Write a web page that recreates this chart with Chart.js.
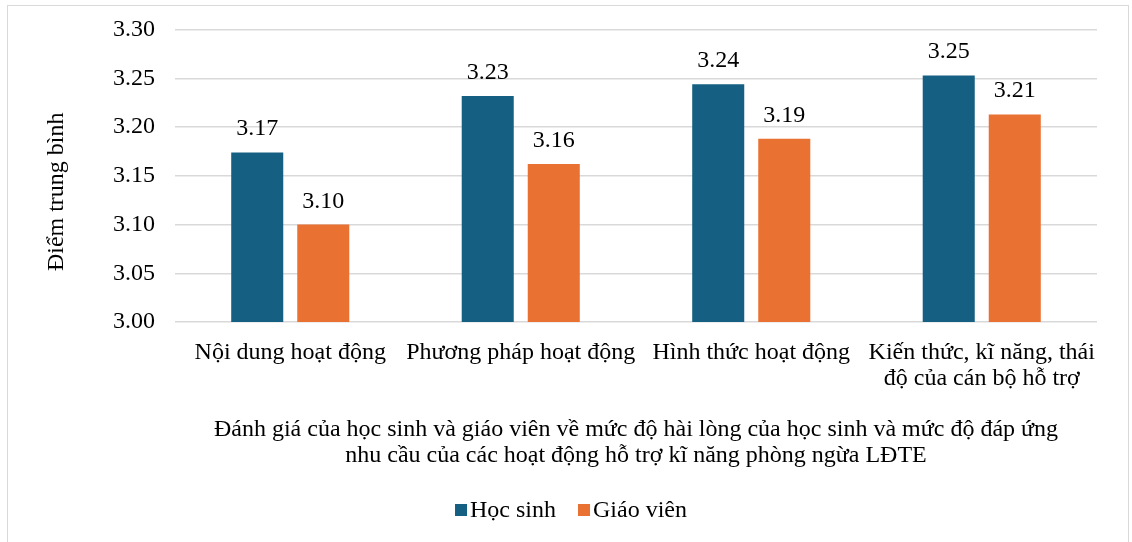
<!DOCTYPE html>
<html lang="vi">
<head>
<meta charset="utf-8">
<script src="https://cdn.jsdelivr.net/npm/chart.js@4/dist/chart.umd.min.js"></script>
<style>
  html, body { margin: 0; padding: 0; background: #ffffff; }
  #wrap { position: relative; width: 1132px; height: 542px; overflow: hidden; }
  #frame { position: absolute; left: 7px; top: 5px; width: 1122px; height: 560px;
           border: 1.5px solid #d9d9d9; box-sizing: border-box; }
  #c { position: absolute; left: 0; top: 0; }
</style>
</head>
<body>
<div id="wrap">
  <div id="frame"></div>
  <canvas id="c" width="1132" height="542"></canvas>
</div>
<script>
// Categories (wrapped labels as arrays of lines)
const categories = [
  ['Nội dung hoạt động'],
  ['Phương pháp hoạt động'],
  ['Hình thức hoạt động'],
  ['Kiến thức, kĩ năng, thái', 'độ của cán bộ hỗ trợ']
];
// Mean scores
const hocSinh  = [3.174, 3.232, 3.244, 3.253];
const giaoVien = [3.100, 3.162, 3.188, 3.213];
// Axis settings
const yTicks = [3.00, 3.05, 3.10, 3.15, 3.20, 3.25, 3.30];
const yTitle = 'Điểm trung bình';
const xTitle = [
  'Đánh giá của học sinh và giáo viên về mức độ hài lòng của học sinh và mức độ đáp ứng',
  'nhu cầu của các hoạt động hỗ trợ kĩ năng phòng ngừa LĐTE'
];

const FONT = '"Liberation Serif", "Times New Roman", serif';
const FS = 24;
const LH = 26 / 24;

// Value labels above each bar
const valueLabels = {
  id: 'valueLabels',
  afterDatasetsDraw(chart) {
    const ctx = chart.ctx;
    ctx.save();
    ctx.font = FS + 'px ' + FONT;
    ctx.fillStyle = '#000000';
    ctx.textAlign = 'center';
    ctx.textBaseline = 'alphabetic';
    chart.data.datasets.forEach((ds, i) => {
      chart.getDatasetMeta(i).data.forEach((bar, j) => {
        ctx.fillText(ds.data[j].toFixed(2), bar.x, bar.y - 17);
      });
    });
    ctx.restore();
  }
};

// Rotated value-axis title, placed a little below the plot's middle
const yAxisTitle = {
  id: 'yAxisTitle',
  afterDraw(chart) {
    const ctx = chart.ctx, a = chart.chartArea;
    ctx.save();
    ctx.font = FS + 'px ' + FONT;
    ctx.fillStyle = '#000000';
    ctx.textAlign = 'center';
    ctx.textBaseline = 'middle';
    ctx.translate(a.left - 118, (a.top + a.bottom) / 2 + 16);
    ctx.rotate(-Math.PI / 2);
    ctx.fillText(yTitle, 0, 0);
    ctx.restore();
  }
};

// Legend: small square swatch right next to each series name
const compactLegend = {
  id: 'compactLegend',
  afterDraw(chart) {
    const ctx = chart.ctx;
    const box = 12, gap = 3, itemGap = 22, cy = 510;
    ctx.save();
    ctx.font = FS + 'px ' + FONT;
    const items = chart.data.datasets.map(ds => ({
      label: ds.label, color: ds.backgroundColor, w: ctx.measureText(ds.label).width
    }));
    const total = items.reduce((s, it) => s + box + gap + it.w, 0) + itemGap * (items.length - 1);
    let x = chart.width / 2 + 5 - total / 2;
    ctx.textBaseline = 'middle';
    ctx.textAlign = 'left';
    items.forEach(it => {
      ctx.fillStyle = it.color;
      ctx.fillRect(x, cy - box / 2, box, box);
      x += box + gap;
      ctx.fillStyle = '#000000';
      ctx.fillText(it.label, x, cy + 1);
      x += it.w + itemGap;
    });
    ctx.restore();
  }
};

new Chart(document.getElementById('c'), {
  type: 'bar',
  data: {
    labels: categories,
    datasets: [
      { label: 'Học sinh', data: hocSinh, backgroundColor: '#156082' },
      { label: 'Giáo viên', data: giaoVien, backgroundColor: '#E97132' }
    ]
  },
  options: {
    responsive: false,
    animation: false,
    devicePixelRatio: 1,
    layout: { padding: { top: 4, right: 35, bottom: 73, left: 93 } },
    datasets: { bar: { categoryPercentage: 0.573, barPercentage: 0.788 } },
    plugins: {
      legend: { display: false },
      tooltip: { enabled: false }
    },
    scales: {
      x: {
        grid: { display: false, drawTicks: false },
        border: { display: false },
        ticks: {
          font: { family: FONT, size: FS, lineHeight: LH },
          color: '#000000', maxRotation: 0, autoSkip: false, padding: 18
        },
        title: {
          display: true, text: xTitle, color: '#000000',
          font: { family: FONT, size: FS, lineHeight: LH },
          padding: { top: 7, bottom: 0 }
        }
      },
      y: {
        min: 3.0, max: 3.3,
        afterBuildTicks(scale) { scale.ticks = yTicks.map(v => ({ value: v })); },
        grid: { color: '#d9d9d9', lineWidth: 1.5, drawTicks: false },
        border: { display: false },
        ticks: {
          font: { family: FONT, size: FS, lineHeight: 0.8 },
          color: '#000000', padding: 20,
          callback: v => Number(v).toFixed(2)
        }
      }
    }
  },
  plugins: [valueLabels, yAxisTitle, compactLegend]
});
</script>
</body>
</html>
